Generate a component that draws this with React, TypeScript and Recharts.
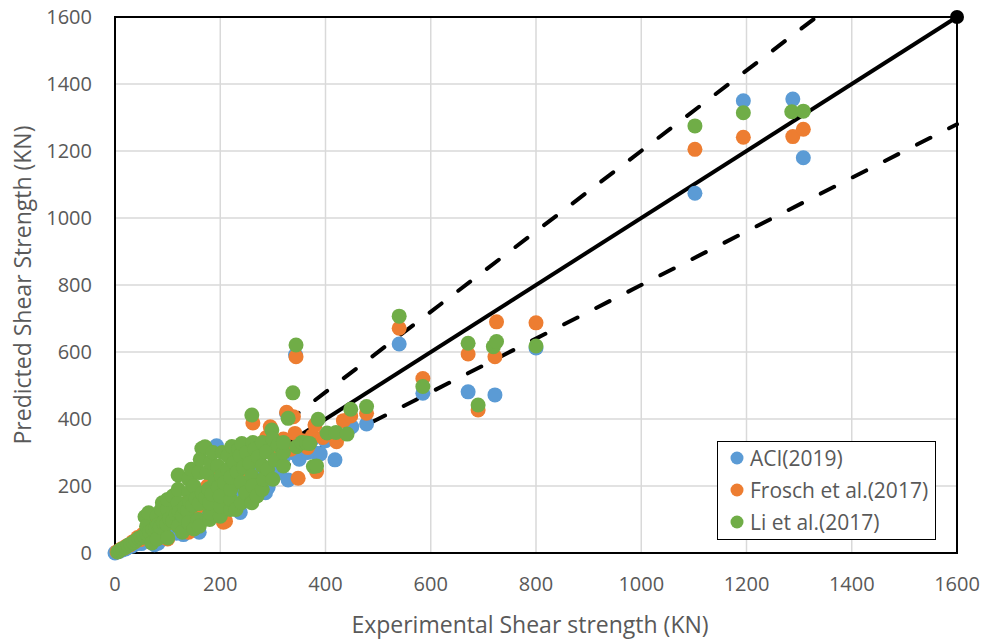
import React from 'react';
import { ScatterChart, Scatter, XAxis, YAxis, CartesianGrid, Legend, ReferenceArea } from 'recharts';

const axisTicks = [0, 200, 400, 600, 800, 1000, 1200, 1400, 1600];

// [experimental, predicted] pairs
const aciPoints = [
  [0, 0], [8, 5], [14, 9], [20, 12], [26, 18], [32, 20], [38, 26], [44, 30], [50, 28], [55, 40],
  [62, 38], [68, 50], [75, 25], [82, 29], [88, 55], [95, 62], [100, 48], [108, 80], [115, 62], [117, 59],
  [122, 95], [128, 75], [130, 55], [135, 110], [142, 90], [148, 125], [155, 100], [160, 62], [162, 140], [168, 115],
  [175, 150], [182, 130], [188, 165], [193, 320], [196, 140], [202, 185], [206, 110], [212, 200], [218, 160], [224, 225],
  [230, 190], [238, 121], [242, 240], [248, 175], [255, 215], [260, 168], [266, 250], [272, 205], [280, 235], [286, 180],
  [291, 196], [298, 255], [305, 275], [312, 240], [320, 285], [326, 417], [329, 218], [336, 300], [343, 592], [350, 280],
  [358, 320], [366, 300], [375, 340], [383, 298], [390, 296], [400, 335], [418, 278], [450, 377], [478, 385], [540, 624],
  [585, 477], [671, 481], [722, 472], [800, 612], [1102, 1074], [1194, 1350], [1288, 1355], [1308, 1180],
];

const froschPoints = [
  [4, 4], [9, 8], [13, 13], [18, 15], [23, 22], [28, 24], [33, 33], [38, 34], [43, 46], [48, 40],
  [53, 56], [58, 50], [63, 68], [68, 58], [73, 78], [78, 66], [84, 92], [90, 78], [96, 104], [100, 42],
  [102, 90], [108, 118], [112, 100], [118, 130], [124, 108], [128, 145], [134, 122], [140, 62], [140, 155], [146, 132],
  [152, 165], [158, 140], [164, 180], [170, 158], [176, 200], [182, 170], [188, 215], [194, 185], [200, 235], [206, 92],
  [210, 95], [212, 205], [218, 250], [224, 220], [230, 270], [236, 240], [242, 290], [248, 255], [254, 300], [262, 388],
  [266, 280], [272, 325], [280, 300], [288, 345], [295, 377], [302, 315], [307, 332], [312, 290], [320, 340], [326, 420],
  [334, 310], [339, 407], [342, 357], [344, 586], [348, 223], [356, 335], [366, 315], [375, 350], [380, 382], [383, 243],
  [395, 345], [421, 332], [434, 395], [448, 409], [478, 417], [540, 671], [585, 521], [671, 594], [690, 427], [722, 586],
  [725, 690], [800, 687], [1102, 1205], [1194, 1241], [1288, 1243], [1308, 1265],
];

const liPoints = [
  [5, 3], [10, 9], [15, 13], [20, 17], [25, 23], [30, 27], [35, 31], [40, 37], [45, 44], [50, 46],
  [55, 52], [57, 108], [60, 58], [60, 80], [64, 120], [66, 63], [70, 30], [72, 70], [78, 76], [80, 42],
  [80, 110], [82, 84], [86, 78], [88, 130], [90, 150], [92, 92], [98, 86], [100, 45], [100, 130], [100, 160],
  [104, 102], [110, 170], [110, 96], [116, 114], [120, 233], [120, 80], [120, 150], [120, 190], [122, 122], [128, 62],
  [128, 112], [132, 136], [138, 126], [140, 90], [140, 180], [140, 220], [142, 152], [145, 250], [148, 142], [150, 72],
  [150, 200], [154, 162], [158, 100], [160, 80], [160, 148], [160, 240], [162, 280], [165, 312], [166, 178], [171, 317],
  [172, 164], [175, 240], [178, 192], [180, 100], [180, 120], [180, 150], [182, 270], [184, 176], [186, 300], [190, 214],
  [195, 260], [196, 196], [200, 110], [200, 140], [200, 170], [202, 230], [204, 300], [208, 210], [214, 250], [215, 290],
  [220, 130], [220, 160], [220, 190], [220, 226], [222, 318], [226, 270], [230, 130], [232, 242], [235, 310], [238, 290],
  [240, 150], [240, 210], [241, 327], [244, 256], [248, 180], [250, 300], [256, 268], [260, 150], [260, 230], [260, 412],
  [262, 200], [262, 330], [266, 310], [270, 170], [272, 286], [280, 190], [280, 260], [280, 330], [282, 220], [288, 302],
  [290, 250], [298, 367], [300, 220], [300, 340], [304, 278], [310, 322], [320, 260], [320, 300], [320, 330], [329, 402],
  [338, 478], [344, 621], [345, 317], [355, 330], [364, 328], [370, 327], [377, 258], [383, 260], [386, 399], [403, 358],
  [420, 360], [441, 355], [448, 429], [478, 437], [540, 707], [585, 497], [671, 626], [690, 442], [719, 616], [725, 631],
  [800, 618], [1102, 1275], [1194, 1314], [1286, 1317], [1308, 1319],
];

// reference lines: y = x, y = 1.2x, y = 0.8x
const idealLine = [[0, 0], [1600, 1600]];
const upperLine = [[0, 0], [1333, 1600]];
const lowerLine = [[0, 0], [1600, 1280]];
const lineEnd = [[1600, 1600]];

const seriesNames = ['ACI(2019)', 'Frosch et al.(2017)', 'Li et al.(2017)'];
const seriesColors = ['#5B9BD5', '#ED7D31', '#70AD47'];

const font = '"Open Sans", sans-serif';
const textColor = '#595959';

const toXY = (pts: number[][]) => pts.map(([x, y]) => ({ x, y }));

const dot = (color: string, r = 7.5) => (props: any) => (
  <circle cx={props.cx} cy={props.cy} r={r} fill={color} />
);
const noDot = () => <g />;

const renderLegend = () => (
  <div
    style={{
      width: 219,
      height: 99,
      boxSizing: 'border-box',
      border: '1.5px solid #000',
      background: '#fff',
      fontFamily: font,
      fontSize: 21,
      color: textColor,
    }}
  >
    {seriesNames.map((name, i) => (
      <div key={name} style={{ display: 'flex', alignItems: 'center', height: 32 }}>
        <svg width={32} height={32} style={{ flex: 'none' }}>
          <circle cx={19} cy={16} r={6.5} fill={seriesColors[i]} />
        </svg>
        <span style={{ whiteSpace: 'nowrap', lineHeight: '32px' }}>{name}</span>
      </div>
    ))}
  </div>
);

const dashed = { stroke: '#000', strokeWidth: 4, strokeDasharray: '15 21', strokeLinecap: 'round' as const };

export default function App() {
  return (
    <div style={{ position: 'absolute', left: 0, top: 0 }}>
      <ScatterChart width={984} height={639} margin={{ top: 17, right: 27, left: 0, bottom: 0 }}>
        <CartesianGrid stroke="#D9D9D9" strokeWidth={1.5} />
        <XAxis
          type="number"
          dataKey="x"
          domain={[0, 1600]}
          ticks={axisTicks}
          height={86}
          tickLine={false}
          tickSize={0}
          tickMargin={24}
          axisLine={{ stroke: '#000', strokeWidth: 2 }}
          tick={{ fill: textColor, fontSize: 20, fontFamily: font }}
          label={{
            value: 'Experimental Shear strength (KN)',
            position: 'insideBottom',
            offset: 6,
            dx: -6,
            style: { fill: textColor, fontSize: 23, fontFamily: font },
          }}
        />
        <YAxis
          type="number"
          dataKey="y"
          domain={[0, 1600]}
          ticks={axisTicks}
          width={115}
          tickLine={false}
          tickSize={0}
          tickMargin={23}
          axisLine={{ stroke: '#000', strokeWidth: 2 }}
          tick={{ fill: textColor, fontSize: 20, fontFamily: font }}
          label={{
            value: 'Predicted Shear Strength (KN)',
            angle: -90,
            position: 'insideLeft',
            offset: 23,
            style: { textAnchor: 'middle', fill: textColor, fontSize: 23, fontFamily: font },
          }}
        />
        <ReferenceArea x1={0} x2={1600} y1={0} y2={1600} fill="none" stroke="#000" strokeWidth={2} />
        <Legend
          layout="vertical"
          align="center"
          verticalAlign="middle"
          wrapperStyle={{ left: 717, top: 441, width: 219, height: 99 }}
          content={renderLegend}
        />
        <Scatter data={toXY(upperLine)} line={dashed} shape={noDot} isAnimationActive={false} />
        <Scatter data={toXY(lowerLine)} line={dashed} shape={noDot} isAnimationActive={false} />
        <Scatter
          data={toXY(idealLine)}
          line={{ stroke: '#000', strokeWidth: 4 }}
          shape={noDot}
          isAnimationActive={false}
        />
        <Scatter data={toXY(lineEnd)} shape={dot('#000', 7)} isAnimationActive={false} />
        <Scatter name={seriesNames[0]} data={toXY(aciPoints)} shape={dot(seriesColors[0])} isAnimationActive={false} />
        <Scatter name={seriesNames[1]} data={toXY(froschPoints)} shape={dot(seriesColors[1])} isAnimationActive={false} />
        <Scatter name={seriesNames[2]} data={toXY(liPoints)} shape={dot(seriesColors[2])} isAnimationActive={false} />
      </ScatterChart>
    </div>
  );
}
